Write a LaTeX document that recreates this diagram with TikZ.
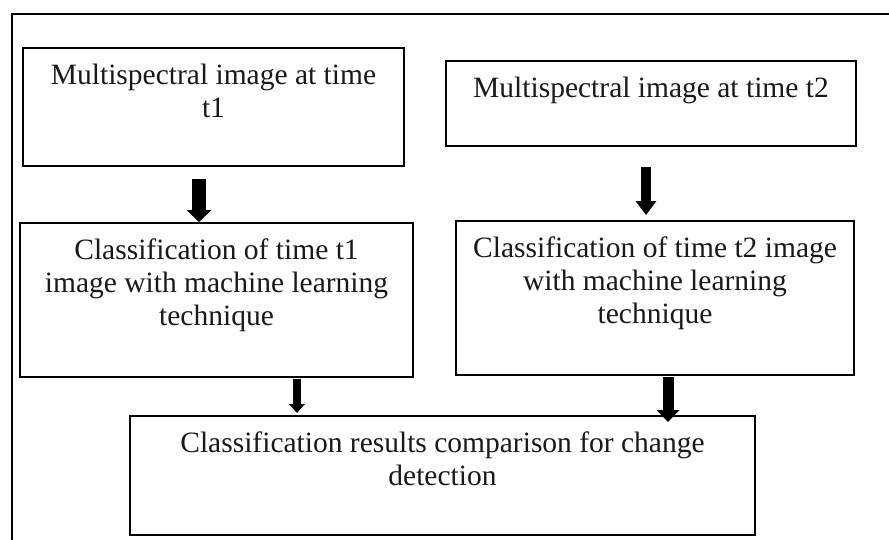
\documentclass[tikz,border=0pt]{standalone}
\usepackage{fontspec}
\setmainfont[Ligatures=NoCommon]{Liberation Serif}
\usetikzlibrary{arrows.meta}
\newcommand\boxtext[3]{\parbox[t][#2pt][t]{#1pt}{\centering\rule{0pt}{36pt}#3}}
\tikzset{
  boxnode/.style={draw, line width=2pt, inner sep=0pt, anchor=north west,
    text=black!90, font=\fontsize{29.5}{33}\selectfont},
  blockarrow/.style n args={3}{line width=#1pt,
    -{Triangle[width=#2pt,length=#3pt,line width=0pt]}},
  framestyle/.style={line width=2.5pt}
}
\begin{document}
\begin{tikzpicture}[x=1pt,y=-1pt]
\useasboundingbox (0,0) rectangle (889,539);
\draw[framestyle] (12,545) -- (12,14) -- (895,14);

\node[boxnode] (b1) at (22,47) {\boxtext{381}{118}{Multispectral image at time\\t1}};
\node[boxnode] (b2) at (445,60) {\boxtext{410}{85}{Multispectral image at time t2}};
\node[boxnode] (b3) at (19,222) {\boxtext{393}{154}{Classification of time t1\\image with machine learning\\technique}};
\node[boxnode] (b4) at (455,220) {\boxtext{398}{154}{Classification of time t2 image\\with machine learning\\technique}};
\node[boxnode] (b5) at (129,415) {\boxtext{625}{119}{Classification results comparison for change\\detection}};

\coordinate (x1) at (199,0);
\coordinate (x2) at (646,0);
\coordinate (x3) at (297,0);
\coordinate (x4) at (668,0);

\draw[blockarrow={14}{25}{12}, shorten <=12pt] (b1.south -| x1) -- (b3.north -| x1);
\draw[blockarrow={10}{21}{14}, shorten <=20pt, shorten >=5pt] (b2.south -| x2) -- (b4.north -| x2);
\draw[blockarrow={8}{16}{9}, shorten <=1pt, shorten >=2pt] (b3.south -| x3) -- (b5.north -| x3);
\draw[blockarrow={11}{23}{12}, shorten <=1pt, shorten >=-7pt] (b4.south -| x4) -- (b5.north -| x4);
\end{tikzpicture}
\end{document}
